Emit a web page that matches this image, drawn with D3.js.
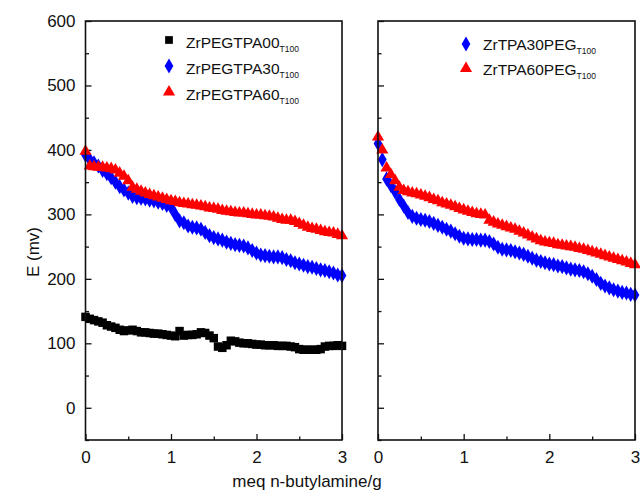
<!DOCTYPE html>
<html><head><meta charset="utf-8">
<script src="https://cdn.jsdelivr.net/npm/d3@7"></script>
<style>
body{margin:0;background:#fff;}
svg{display:block;font-family:"Liberation Sans",Arial,sans-serif;}
</style></head>
<body><svg id="c" width="640" height="492"></svg>
<script>
// ---------- data ----------
const xVals = [0,0.05,0.1,0.15,0.2,0.25,0.3,0.35,0.4,0.45,0.5,0.55,0.6,0.65,0.7,0.75,0.8,0.85,0.9,0.95,
  1.0,1.05,1.1,1.15,1.2,1.25,1.3,1.35,1.4,1.45,1.5,1.55,1.6,1.65,1.7,1.75,1.8,1.85,1.9,1.95,
  2.0,2.05,2.1,2.15,2.2,2.25,2.3,2.35,2.4,2.45,2.5,2.55,2.6,2.65,2.7,2.75,2.8,2.85,2.9,2.95,3.0];

const zrPEGTPA00 = [141,138,136,134,132,128,126,124,121,119,120,121,119,117,117,116,115,115,114,113,
  112,111,119,112,113,113,114,117,116,112,108,95,93,97,104,103,101,100,100,99,
  98,98,97,97,97,96,96,96,95,94,91,90,90,90,90,91,95,96,96,97,96];
const zrPEGTPA30 = [392,385,380,375,368,363,357,350,343,338,333,328,326,325,324,322,321,319,317,314,
  311,300,290,287,282,280,279,277,272,267,264,262,260,257,255,253,252,251,248,244,
  240,237,236,235,234,234,233,230,228,225,223,221,219,218,216,214,213,211,209,206,205];
const zrPEGTPA60 = [398,375,374,373,373,372,371,369,364,359,352,342,339,336,333,331,329,327,325,323,
  321,320,318,317,316,315,314,313,312,310,309,308,306,305,304,303,302,302,301,300,
  299,299,298,297,296,294,292,291,291,289,286,283,280,278,277,275,273,272,271,269,267];
const zrTPA30PEG = [410,385,355,345,335,323,313,303,297,294,292,291,289,286,283,280,277,274,270,266,
  263,262,261,261,260,260,258,254,249,246,245,244,242,240,238,235,232,229,227,225,
  223,222,220,219,217,215,214,213,211,208,204,199,193,189,186,183,181,179,178,176,175];
const zrTPA60PEG = [420,400,372,362,352,342,337,335,333,332,330,328,326,323,321,318,316,314,312,309,
  307,305,303,301,300,299,291,288,285,283,281,279,277,274,271,268,265,262,259,257,
  256,255,253,252,251,250,249,247,246,244,242,240,238,236,234,232,230,228,226,224,222];

const yTicks = [0,100,200,300,400,500,600];
const yMinor = [-50,50,150,250,350,450,550];
const xTicks = [0,1,2,3];
const xMinor = [0.5,1.5,2.5];

const leftSeries = [
  {name:"ZrPEGTPA00", sub:"T100", values:zrPEGTPA00, color:"#000000", sym:"square"},
  {name:"ZrPEGTPA30", sub:"T100", values:zrPEGTPA30, color:"#0000ff", sym:"diamond"},
  {name:"ZrPEGTPA60", sub:"T100", values:zrPEGTPA60, color:"#ff0000", sym:"triangle"}
];
const rightSeries = [
  {name:"ZrTPA30PEG", sub:"T100", values:zrTPA30PEG, color:"#0000ff", sym:"diamond"},
  {name:"ZrTPA60PEG", sub:"T100", values:zrTPA60PEG, color:"#ff0000", sym:"triangle"}
];

// ---------- drawing ----------
const svg = d3.select("#c");
const plotTop = 21, plotBottom = 440;
const y = d3.scaleLinear().domain([-50,600]).range([plotBottom, plotTop]);

const symGen = {
  square: d3.symbol().type(d3.symbolSquare).size(72),
  diamond: d3.symbol().type(d3.symbolDiamond).size(66),
  triangle: d3.symbol().type(d3.symbolTriangle).size(64)
};
const legGen = {
  square: d3.symbol().type(d3.symbolSquare).size(60),
  diamond: d3.symbol().type(d3.symbolDiamond).size(66),
  triangle: d3.symbol().type(d3.symbolTriangle).size(64)
};

function panel(x0, x1, series, showYLabels, legend) {
  const x = d3.scaleLinear().domain([0,3]).range([x0, x1]);
  const g = svg.append("g");

  const ya = g.append("g").attr("transform", `translate(${x0},0)`)
    .call(d3.axisLeft(y).tickValues(yTicks).tickSizeInner(-6).tickSizeOuter(0)
      .tickPadding(10).tickFormat(showYLabels ? d3.format("d") : () => ""));
  ya.select(".domain").remove();
  ya.selectAll("text").attr("font-size", 17).attr("fill", "#111").attr("font-family", "Liberation Sans, Arial, sans-serif");
  ya.selectAll("line").attr("stroke", "#111").attr("stroke-width", 1.3);
  const yam = g.append("g").attr("transform", `translate(${x0},0)`)
    .call(d3.axisLeft(y).tickValues(yMinor).tickSizeInner(-3.5).tickSizeOuter(0).tickFormat(() => ""));
  yam.select(".domain").remove();
  yam.selectAll("line").attr("stroke", "#111").attr("stroke-width", 1.3);

  const xa = g.append("g").attr("transform", `translate(0,${plotBottom})`)
    .call(d3.axisBottom(x).tickValues(xTicks).tickSizeInner(-6).tickSizeOuter(0).tickPadding(11)
      .tickFormat(d3.format("d")));
  xa.select(".domain").remove();
  xa.selectAll("text").attr("font-size", 17).attr("fill", "#111").attr("font-family", "Liberation Sans, Arial, sans-serif");
  xa.selectAll("line").attr("stroke", "#111").attr("stroke-width", 1.3);
  const xam = g.append("g").attr("transform", `translate(0,${plotBottom})`)
    .call(d3.axisBottom(x).tickValues(xMinor).tickSizeInner(-3.5).tickSizeOuter(0).tickFormat(() => ""));
  xam.select(".domain").remove();
  xam.selectAll("line").attr("stroke", "#111").attr("stroke-width", 1.3);

  series.forEach(s => {
    g.append("g").selectAll("path").data(s.values).join("path")
      .attr("d", symGen[s.sym]())
      .attr("transform", (d, i) => `translate(${x(xVals[i])},${y(d)})`)
      .attr("fill", s.color);
  });

  g.append("rect").attr("x", x0).attr("y", plotTop).attr("width", x1 - x0).attr("height", plotBottom - plotTop)
    .attr("fill", "none").attr("stroke", "#111").attr("stroke-width", 1.6);

  const lg = g.append("g");
  series.forEach((s, i) => {
    const my = legend.my[i], by = legend.by[i];
    lg.append("path").attr("d", legGen[s.sym]())
      .attr("transform", `translate(${legend.mx},${my})`).attr("fill", s.color);
    const t = lg.append("text").attr("x", legend.tx).attr("y", by)
      .attr("font-size", 15.5).attr("fill", "#111");
    t.append("tspan").text(s.name);
    t.append("tspan").attr("dy", 4).attr("font-size", 8.5).text(s.sub);
  });
}

panel(85.5, 342, leftSeries, true, {mx:169, tx:186, my:[40,66,92], by:[48,74,100]});
panel(378, 635, rightSeries, false, {mx:466, tx:483, my:[44,68.5], by:[50,74.5]});

svg.append("text").attr("transform", "translate(39,252) rotate(-90)")
  .attr("text-anchor", "middle").attr("font-size", 17).attr("fill", "#111").text("E  (mv)");
svg.append("text").attr("x", 307).attr("y", 487)
  .attr("text-anchor", "middle").attr("font-size", 17).attr("fill", "#111").text("meq n-butylamine/g");
</script>
</body></html>
